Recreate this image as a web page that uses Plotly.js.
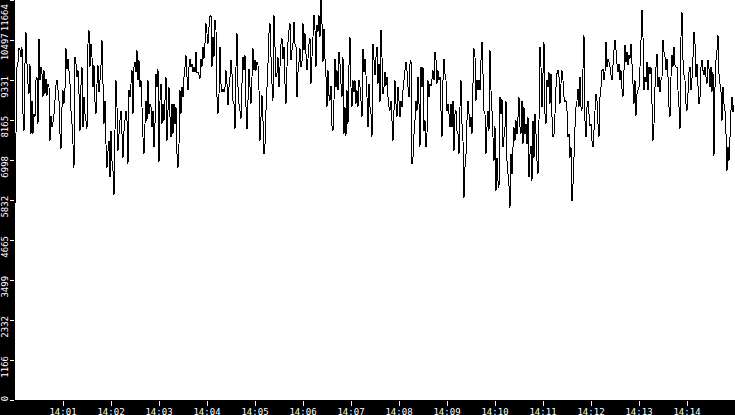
<!DOCTYPE html>
<html>
<head>
<meta charset="utf-8">
<script src="https://cdn.plot.ly/plotly-3.0.1.min.js"></script>
<style>
html,body{margin:0;padding:0;background:#000;}
#chart{width:735px;height:415px;}
#chart .scatterlayer path.js-line{shape-rendering:crispEdges;}
</style>
</head>
<body>
<div id="chart"></div>
<script>
// Time axis: samples every 1.25 s starting at 14:00:00
const startTime = '2024-01-01 14:00:00';
const sampleStepMs = 1250;
const rangeEnd = '2024-01-01 14:15:00';

const xTickLabels = ['14:01','14:02','14:03','14:04','14:05','14:06','14:07','14:08','14:09','14:10','14:11','14:12','14:13','14:14'];
const yTickLabels = ['0','1166','2332','3499','4665','5832','6998','8165','9331','10497','11664'];

// 14:00:00 - 14:03:45
const values1 = [
5700,7760,9710,9860,10250,10200,10000,10300,8340,7850,9810,10720,
9810,9220,8930,9810,7760,8730,7760,8340,8250,9320,9420,8050,
10540,9320,9710,9520,8830,9610,8930,9370,8880,9220,9120,7560,8290,7950,8100,8340,8730,9170,9320,9030,8730,7760,7320,8540,9030,8640,9080,
10250,9660,9950,9610,9220,8440,8050,7460,6780,10000,9810,9420,9610,8930,7850,9170,9710,7950,8830,8340,8150,7900,
10390,10790,9710,10390,10000,9120,9760,8680,8340,9220,9760,8980,9320,9760,10490,9220,8050,8730,7460,6780,7270,7560,6490,7850,6970,6680,
5970,7850,9320,8540,7270,7760,8150,8440,7760,7070,
7850,8150,8440,8150,6880,9030,8830,9220,9610,8340,
9710,9860,9560,10200,9320,9910,9120,9320,8540,7660,
7170,8050,8730,8150,9320,8340,8640,8540,7950,8440,
7370,8050,9520,9120,9660,6930,8730,9220,8050,8640,
8150,8730,9420,7560,8440,9120,8250,7660,8640,7760,
8640,8050,8540,7170,6780,7460,9030,8340,9120,8830,
9420,9710,10050,9420,9030,9710,9950,9710,9810,9560,
9710
];
// 14:03:45 - 14:07:30
const values2 = [
9560,10150,9560,9560,9470,9370,9950,9710,10300,9950,
10390,10980,10690,10390,10880,11180,11220,9710,10590,10000,
11080,10790,8830,8340,8930,10300,9220,8980,9080,8980,
9120,9610,9220,8590,9120,9420,9910,9520,8730,8640,
7900,9710,10690,9120,8640,8440,8200,9220,10000,9610,
10050,8540,7900,8730,9660,9120,8640,9420,10250,9610,
9910,9610,9860,9760,9030,7560,8250,8880,8150,7170,
7460,8440,9120,9810,10690,10980,10000,9220,8730,11220,
10300,9420,9520,10000,9120,9710,10390,10540,9950,10300,
9220,8640,9710,10440,10790,10980,9910,10200,10390,11030,
10390,10300,8830,9560,9860,10250,9710,9860,10980,10200,
10690,10100,9610,9950,10390,10540,9220,10000,10590,11220,
10790,9710,10930,10740,11220,10590,11664.6,10980,9860,10830,
9950,9420,8540,9610,8880,8730,9170,8000,7850,8730,
9950,9120,9610,9030,10150,9810,9220,8830,10000,7760,
8540,7710,9030,8050,9760,10590,9120,8540,9320,8980,
9320,8640,9030,8540,9320,9120,8730,8250,10250,9560,
9950,9470,8830,7950,9220,8540,8340,7660,10390,9910
];
// 14:07:30 - 14:11:15
const values3 = [
9470,10000,10300,9220,9810,8680,10790,10000,8930,9120,
9560,9170,9420,8830,8540,8440,8730,8150,7560,8440,
9320,8640,8250,9120,8730,8250,8730,8540,9030,9320,
9610,9860,9610,9120,8830,9810,9910,6880,7070,7760,
8150,8730,8440,9420,8640,7370,9710,9120,9710,7850,
8150,7370,7760,9320,8830,9220,9170,9370,9610,9320,
10150,9910,9220,9610,9320,9420,8440,7660,9320,9950,
9520,9320,8440,8640,8340,7950,8640,7950,8730,7270,
8340,8440,7850,7760,7170,8540,9320,8050,7560,5900,
6780,7170,8150,8730,8340,7950,8250,7760,9220,10250,
10000,8730,9320,9030,9320,9030,9910,10440,9520,8440,
8340,7170,7950,8440,7850,10200,9030,8440,7660,6970,
8000,6100,7070,6390,6190,8830,8340,8780,7370,7660,
7950,8730,6970,6580,6240,5610,7170,6580,7370,7950,
7560,8150,7760,8250,8830,7950,7760,8730,7460,8540,
7760,8050,7460,8250,6490,7170,7410,6390,8150,7070,
8340,7760,6970,6580,8150,10300,9710,8540,9520,10440,
8340,8050,9320,9120,9560,8640,9520,8250,7660,7760
];
// 14:11:15 - 14:15:00
const values4 = [
8340,9120,9520,9610,9420,8640,9220,9610,9320,8830,
8680,8730,8440,7660,7760,7070,7370,5800,6290,7070,
7950,8540,8730,9080,8540,9420,8540,8440,9660,10640,
8150,7660,8540,8730,8340,8000,8050,7560,7370,7850,
8440,8930,8730,8050,7660,8830,9120,9610,9660,9320,
9560,10440,9710,9950,9860,9710,9470,9320,9760,10200,
10490,10200,9810,9560,9810,9320,9610,9080,8830,9610,
10350,9860,10150,9760,10050,9950,10390,9810,9220,8640,
9320,8290,8930,9030,9120,9710,10490,11370,10590,9030,
9420,9270,9860,9030,9710,9520,9710,8640,7560,8050,
9120,9710,10100,9120,9420,8980,9320,9420,10490,10150,
10000,9610,9950,9420,8540,8250,9420,10050,9710,10300,
9760,9710,9710,9030,8540,7900,10590,11320,9910,9470,
9320,8640,8440,8930,9560,9710,9030,9370,10000,10740,
10390,9420,9810,9170,8640,8830,9710,9910,9610,9470,
9710,9420,9220,9910,9660,9120,9710,8980,9560,7120,
9120,9910,10200,10640,9520,9220,8980,8150,9120,8640,
8440,7760,6680,7370,6970,7660,8440,8830,8390,8590
];

const values = values1.concat(values2, values3, values4);

function fmt(ms){ return new Date(ms).toISOString().replace('T',' ').replace('Z',''); }
const t0 = Date.parse(startTime.replace(' ','T') + 'Z');
const times = values.map((_, i) => fmt(t0 + i * sampleStepMs));

const xTickVals = xTickLabels.map(l => '2024-01-01 ' + l + ':00');
const NBSP = '\u00a0';
const yTickVals = yTickLabels.map(Number);
const yTickText = yTickLabels.map((l, i) => {
  let pad = 0;
  if (i === yTickLabels.length - 1) pad = 7;
  else if (i > 0) pad = 3;
  return l + NBSP.repeat(pad);
});
const yMax = Math.max(...values);

const tickFont = {family: 'DejaVu Sans Mono', size: 9, color: '#ffffff'};

Plotly.newPlot('chart', [{
  x: times,
  y: values,
  type: 'scatter',
  mode: 'lines',
  line: {color: '#000000', width: 1, simplify: false},
  hoverinfo: 'skip'
}], {
  width: 735, height: 415,
  margin: {l: 15, r: 0, t: 0, b: 15, pad: 0},
  paper_bgcolor: '#000000',
  plot_bgcolor: '#ffffff',
  showlegend: false,
  xaxis: {
    type: 'date',
    range: [startTime, rangeEnd],
    tickvals: xTickVals,
    ticktext: xTickLabels,
    ticks: 'outside', ticklen: 5, tickwidth: 1, tickcolor: '#ffffff',
    tickfont: tickFont,
    ticklabeloverflow: 'allow',
    ticklabelstandoff: -2,
    showgrid: false, zeroline: false, showline: false,
    fixedrange: true
  },
  yaxis: {
    range: [0, yMax],
    tickvals: yTickVals,
    ticktext: yTickText,
    tickangle: -90,
    ticks: 'outside', ticklen: 4, tickwidth: 1, tickcolor: '#ffffff',
    tickfont: tickFont,
    ticklabeloverflow: 'allow',
    ticklabelstandoff: -2,
    showgrid: false, zeroline: false, showline: false,
    fixedrange: true
  }
}, {displayModeBar: false, staticPlot: true});
</script>
</body>
</html>
